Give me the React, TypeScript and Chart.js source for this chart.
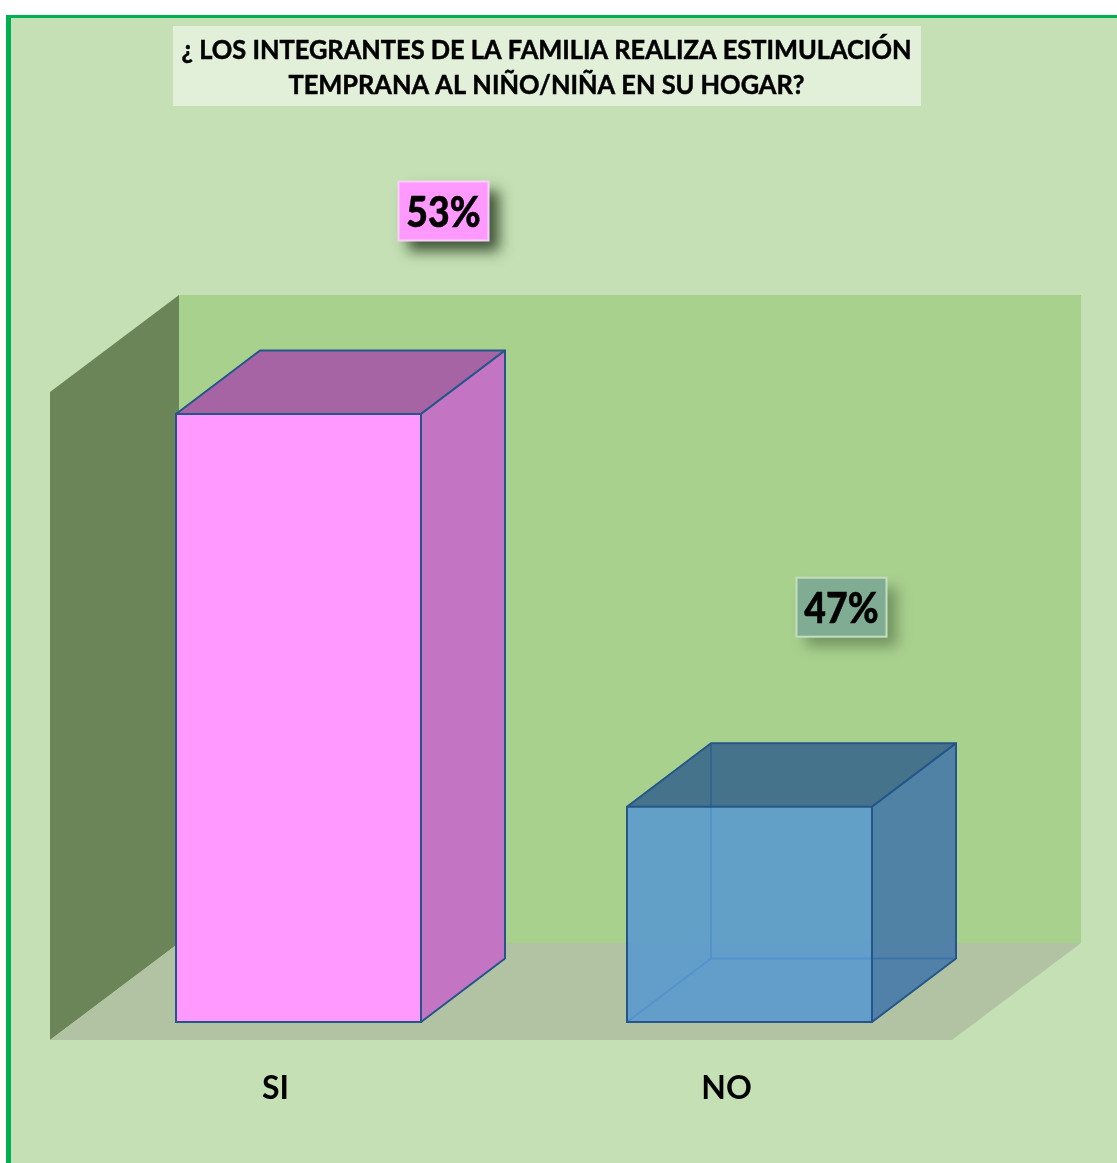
import React, { useEffect, useRef } from "react";
import { Chart, registerables } from "chart.js";

Chart.register(...registerables);

const categories = ["SI", "NO"];
const seriesValues = [53, 47];
const valueLabels = ["53%", "47%"];
const titleLines = [
  "¿ LOS INTEGRANTES DE LA FAMILIA REALIZA ESTIMULACIÓN",
  "TEMPRANA AL NIÑO/NIÑA EN SU HOGAR?",
];

const W = 1117;
const H = 1163;
const DX = 84;
const DY = 63.5;
const AXIS_MIN = 43.68;
const FONT = "Lato, Carlito, sans-serif";
const EDGE = "#245688";

const faceStyles = [
  { front: "#FF99FF", right: "#C374C3", top: "#A664A5", label: "#FF99FF", labelBorder: "#F7D2F7", shadow: "rgba(30,50,25,0.8)" },
  { front: "rgba(88,152,208,0.88)", right: "rgba(65,116,169,0.85)", top: "rgba(53,99,140,0.85)", label: "#80AC94", labelBorder: "#C4DDBE", shadow: "rgba(30,50,25,0.38)" },
];
const labelOffsets = [
  { dx: 145, dy: -202 },
  { dx: 92, dy: -198.5 },
];

function poly(ctx: CanvasRenderingContext2D, pts: number[][], fill?: string, stroke?: string) {
  ctx.beginPath();
  pts.forEach((p, i) => (i ? ctx.lineTo(p[0], p[1]) : ctx.moveTo(p[0], p[1])));
  ctx.closePath();
  if (fill) {
    ctx.fillStyle = fill;
    ctx.fill();
  }
  if (stroke) {
    ctx.strokeStyle = stroke;
    ctx.lineWidth = 2;
    ctx.lineJoin = "round";
    ctx.stroke();
  }
}

function fittedText(ctx: CanvasRenderingContext2D, text: string, cx: number, cy: number, scaleX: number, weight = 0) {
  ctx.save();
  ctx.translate(cx, cy);
  ctx.scale(scaleX, 1);
  ctx.textAlign = "center";
  ctx.textBaseline = "middle";
  ctx.fillStyle = "#000";
  ctx.fillText(text, 0, 0);
  if (weight) {
    ctx.strokeStyle = "#000";
    ctx.lineWidth = weight;
    ctx.strokeText(text, 0, 0);
  }
  ctx.restore();
}

const scene = {
  id: "scene",
  beforeDraw(chart: any) {
    const ctx: CanvasRenderingContext2D = chart.ctx;
    ctx.save();
    ctx.fillStyle = "#FFFFFF";
    ctx.fillRect(0, 0, W, H);
    ctx.fillStyle = "#00B050";
    ctx.fillRect(6, 15, W - 6, H - 15);
    ctx.fillStyle = "#C5E0B4";
    ctx.fillRect(11, 18, W - 11, H - 18);
    // back wall, side wall and floor
    ctx.fillStyle = "#A9D18E";
    ctx.fillRect(179, 295, 902, 648);
    poly(ctx, [[50, 392], [179, 295], [179, 943], [50, 1040]], "#6B8559");
    poly(ctx, [[179, 943], [1081, 943], [952, 1040], [50, 1040]], "#B1C3A3");
    ctx.restore();
  },
  beforeDatasetsDraw(chart: any) {
    const ctx: CanvasRenderingContext2D = chart.ctx;
    const bars = chart.getDatasetMeta(0).data;
    ctx.save();
    bars.forEach((bar: any, i: number) => {
      const s = faceStyles[i];
      const l = bar.x - bar.width / 2 + 1;
      const r = bar.x + bar.width / 2 - 1;
      const t = bar.y + 1;
      const b = bar.base - 1;
      // hidden back edges, seen through the translucent faces
      ctx.strokeStyle = "#2F6DB0";
      ctx.lineWidth = 2;
      ctx.beginPath();
      ctx.moveTo(l + DX, t - DY);
      ctx.lineTo(l + DX, b - DY);
      ctx.lineTo(r + DX, b - DY);
      ctx.moveTo(l + DX, b - DY);
      ctx.lineTo(l, b);
      ctx.stroke();
      poly(ctx, [[l, t], [l + DX, t - DY], [r + DX, t - DY], [r, t]], s.top, EDGE);
      poly(ctx, [[r, t], [r + DX, t - DY], [r + DX, b - DY], [r, b]], s.right, EDGE);
    });
    ctx.restore();
  },
  afterDatasetsDraw(chart: any) {
    const ctx: CanvasRenderingContext2D = chart.ctx;
    const bars = chart.getDatasetMeta(0).data;
    ctx.save();
    // value labels
    bars.forEach((bar: any, i: number) => {
      const s = faceStyles[i];
      const o = labelOffsets[i];
      const cx = bar.x + o.dx;
      const cy = bar.y + o.dy;
      ctx.save();
      ctx.shadowColor = s.shadow;
      ctx.shadowBlur = 13;
      ctx.shadowOffsetX = 10;
      ctx.shadowOffsetY = 10;
      ctx.fillStyle = s.label;
      ctx.fillRect(cx - 45.5, cy - 30, 91, 60);
      ctx.restore();
      ctx.strokeStyle = s.labelBorder;
      ctx.lineWidth = 2;
      ctx.strokeRect(cx - 45, cy - 29.5, 90, 59);
      ctx.font = `900 42px ${FONT}`;
      fittedText(ctx, valueLabels[i], cx, cy + 2, 0.89, 0.5);
    });
    // title
    ctx.fillStyle = "#E2EFD9";
    ctx.fillRect(173, 26, 748, 80);
    ctx.font = `bold 27px ${FONT}`;
    fittedText(ctx, titleLines[0], 546.5, 50, 0.94, 0.5);
    fittedText(ctx, titleLines[1], 546.5, 85, 0.94, 0.5);
    ctx.restore();
  },
};

export default function App() {
  const ref = useRef<HTMLCanvasElement>(null);
  useEffect(() => {
    const chart = new Chart(ref.current as HTMLCanvasElement, {
      type: "bar",
      data: {
        labels: categories,
        datasets: [
          {
            data: seriesValues,
            base: AXIS_MIN,
            backgroundColor: faceStyles.map((s) => s.front),
            borderColor: EDGE,
            borderWidth: 2,
            borderSkipped: false,
            barPercentage: 247 / 451,
            categoryPercentage: 1,
          },
        ],
      },
      plugins: [scene],
      options: {
        responsive: false,
        animation: false,
        layout: { padding: { left: 73, right: 142, top: 413, bottom: 0 } },
        plugins: { legend: { display: false }, title: { display: false }, tooltip: { enabled: false } },
        scales: {
          y: { display: false, min: AXIS_MIN, max: 53 },
          x: {
            grid: { display: false, drawTicks: false },
            border: { display: false },
            afterFit(scale: any) {
              scale.height = 140;
            },
            ticks: {
              color: "#000",
              padding: 46,
              labelOffset: -23,
              font: { family: FONT, size: 32, weight: "bold" },
            },
          },
        },
      },
    } as any);
    return () => chart.destroy();
  }, []);
  return (
    <div style={{ position: "absolute", left: 0, top: 0, width: W, height: H }}>
      <canvas ref={ref} width={W} height={H} style={{ display: "block" }} />
    </div>
  );
}
